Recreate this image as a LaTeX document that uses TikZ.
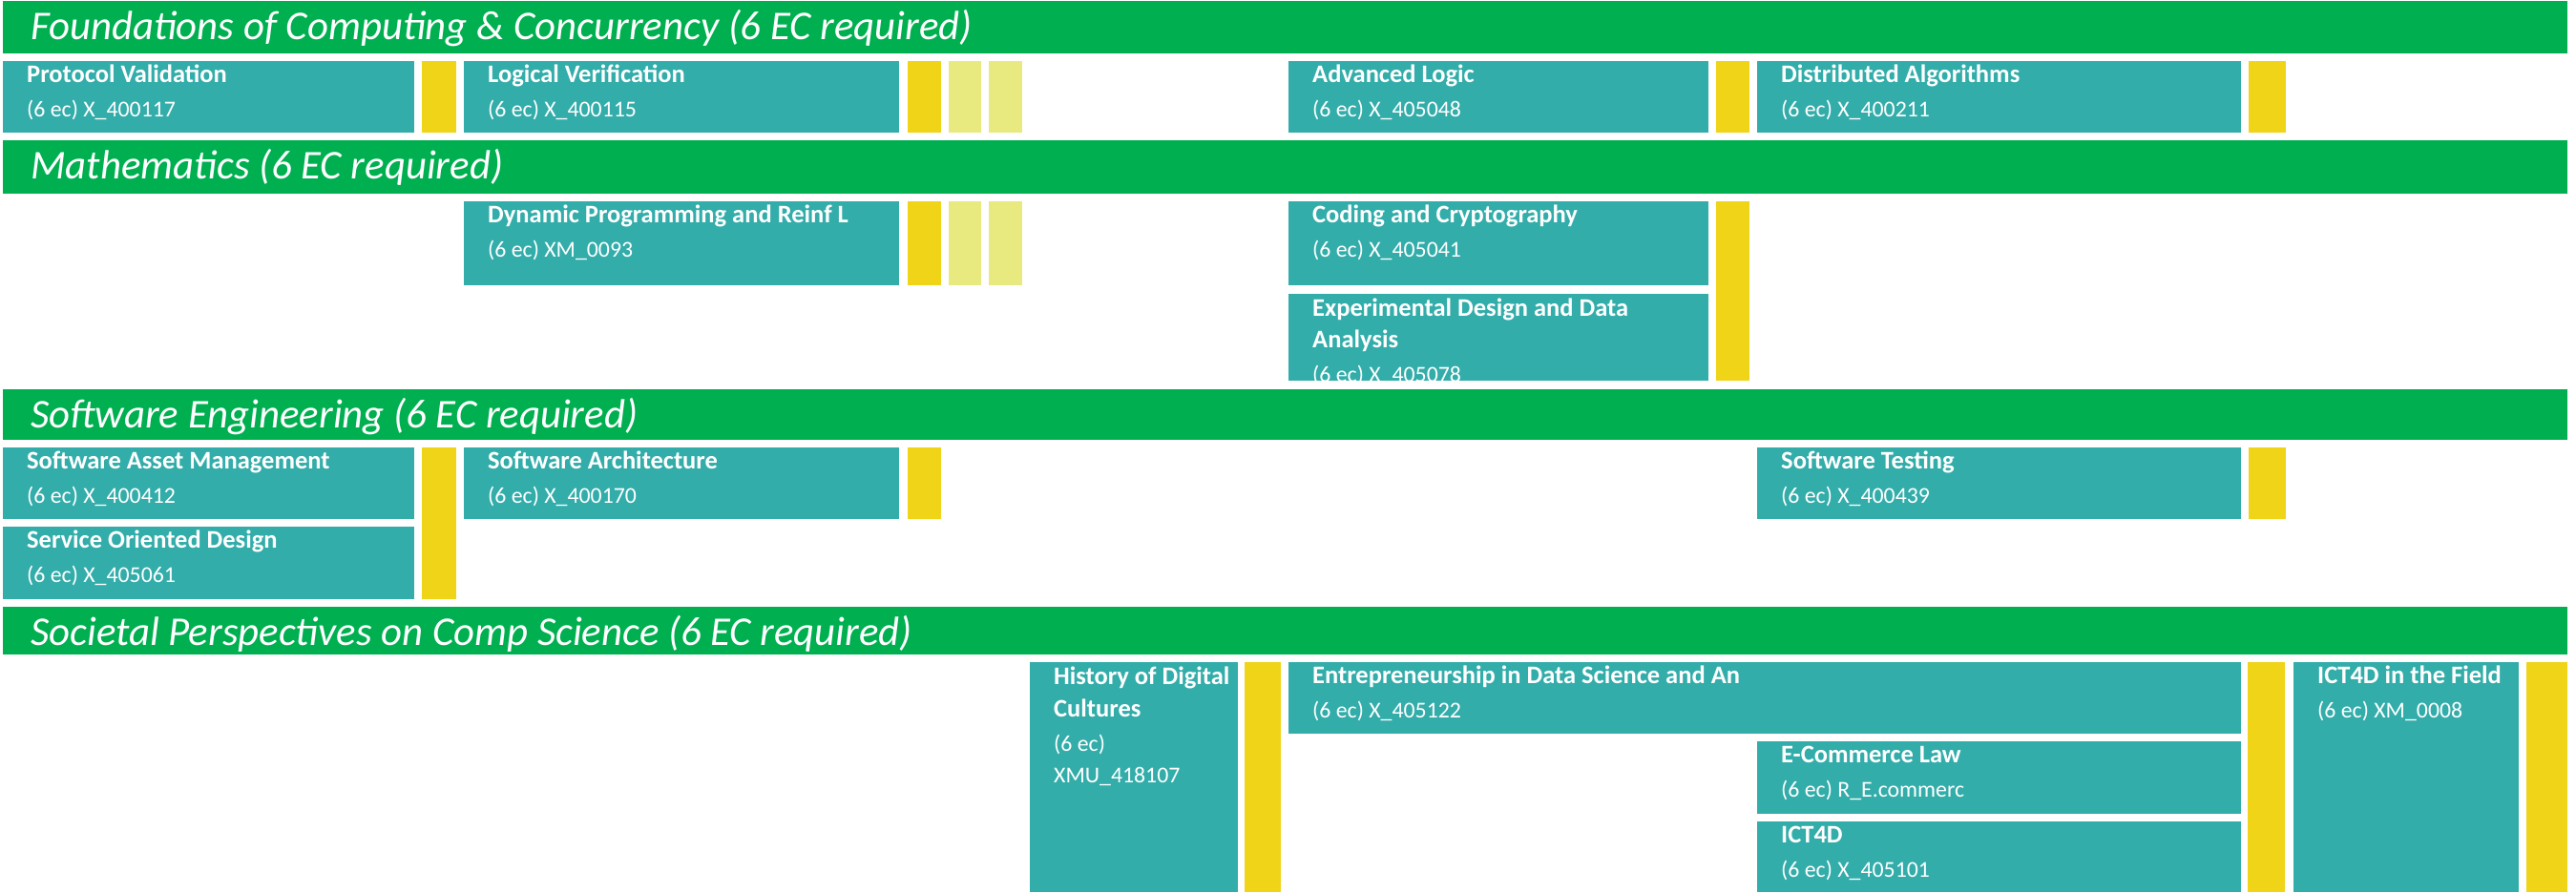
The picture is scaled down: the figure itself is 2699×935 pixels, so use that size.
\documentclass[tikz,border=0pt]{standalone}
\usepackage{fontspec}
\setmainfont{Carlito}
\definecolor{hdrgreen}{RGB}{0,176,80}
\definecolor{crsteal}{RGB}{51,173,170}
\definecolor{baryellow}{RGB}{240,212,24}
\definecolor{paleyellow}{RGB}{232,234,128}
\tikzset{
  hdrbox/.style={fill=hdrgreen, draw=none, inner sep=0pt, outer sep=0pt, anchor=north west, minimum width=2687pt},
  hdrtext/.style={text=white, inner sep=0pt, anchor=base west, font=\fontsize{42.8}{44}\selectfont\itshape},
  crsbox/.style={fill=crsteal, draw=none, inner sep=0pt, outer sep=0pt, anchor=north west},
  crstitle/.style={text=white, inner sep=0pt, anchor=base west, font=\fontsize{26.5}{28}\selectfont\bfseries},
  crscode/.style={text=white, inner sep=0pt, anchor=base west, font=\fontsize{23.8}{28}\selectfont},
  ybar/.style={fill=baryellow, draw=none, inner sep=0pt, outer sep=0pt, anchor=north west},
  pbar/.style={fill=paleyellow, draw=none, inner sep=0pt, outer sep=0pt, anchor=north west}
}
% name, x, y, w, h, title, code
\newcommand\crs[7]{%
  \node[crsbox, minimum width=#4pt, minimum height=#5pt] (#1) at (#2,#3) {};
  \node[crstitle] (#1-t) at ([xshift=25pt,yshift=-22pt]#1.north west) {#6};
  \node[crscode] (#1-c) at ([xshift=25pt,yshift=-58pt]#1.north west) {#7};
}
\newcommand\ybr[5]{\node[ybar, minimum width=#4pt, minimum height=#5pt] (#1) at (#2,#3) {};}
\newcommand\pbr[5]{\node[pbar, minimum width=#4pt, minimum height=#5pt] (#1) at (#2,#3) {};}
\newcommand\hdr[4]{%
  \node[hdrbox, minimum height=#3pt] (#1) at (3,#2) {};
  \node[hdrtext] (#1-t) at ([xshift=29pt,yshift=-40pt]#1.north west) {#4};
}
\begin{document}
\begin{tikzpicture}[x=1pt,y=-1pt]
\useasboundingbox (0,0) rectangle (2699,935);
% ---------- Foundations
\hdr{h1}{1}{55}{Foundations of Computing \& Concurrency (6 EC required)}
\crs{pv}{3}{64}{431}{75}{Protocol Validation}{(6 ec) X\_400117}
\ybr{y1a}{442}{64}{36}{75}
\crs{lv}{486}{64}{456}{75}{Logical Verification}{(6 ec) X\_400115}
\ybr{y1b}{951}{64}{35}{75}
\pbr{p1a}{994}{64}{34}{75}
\pbr{p1b}{1036}{64}{35}{75}
\crs{al}{1350}{64}{440}{75}{Advanced Logic}{(6 ec) X\_405048}
\ybr{y1c}{1798}{64}{35}{75}
\crs{da}{1841}{64}{507}{75}{Distributed Algorithms}{(6 ec) X\_400211}
\ybr{y1d}{2356}{64}{39}{75}
% ---------- Mathematics
\hdr{h2}{147}{56}{Mathematics (6 EC required)}
\crs{dp}{486}{211}{456}{88}{Dynamic Programming and Reinf L}{(6 ec) XM\_0093}
\ybr{y2a}{951}{211}{35}{88}
\pbr{p2a}{994}{211}{34}{88}
\pbr{p2b}{1036}{211}{35}{88}
\crs{cc}{1350}{211}{440}{88}{Coding and Cryptography}{(6 ec) X\_405041}
\node[crsbox, minimum width=440pt, minimum height=91pt] (ed) at (1350,308) {};
\begin{scope}
\clip (ed.north west) rectangle (ed.south east);
\node[crstitle] (ed-t1) at ([xshift=25pt,yshift=-23pt]ed.north west) {Experimental Design and Data};
\node[crstitle] (ed-t2) at ([xshift=25pt,yshift=-56pt]ed.north west) {Analysis};
\node[crscode] (ed-c) at ([xshift=25pt,yshift=-92pt]ed.north west) {(6 ec) X\_405078};
\end{scope}
\ybr{y2b}{1798}{211}{35}{188}
% ---------- Software Engineering
\hdr{h3}{408}{53}{Software Engineering (6 EC required)}
\crs{sam}{3}{469}{431}{75}{Software Asset Management}{(6 ec) X\_400412}
\crs{sod}{3}{552}{431}{76}{Service Oriented Design}{(6 ec) X\_405061}
\ybr{y3a}{442}{469}{36}{159}
\crs{sa}{486}{469}{456}{75}{Software Architecture}{(6 ec) X\_400170}
\ybr{y3b}{951}{469}{35}{75}
\crs{st}{1841}{469}{507}{75}{Software Testing}{(6 ec) X\_400439}
\ybr{y3c}{2356}{469}{39}{75}
% ---------- Societal Perspectives
\hdr{h4}{636}{50}{Societal Perspectives on Comp Science (6 EC required)}
\node[crsbox, minimum width=218pt, minimum height=241pt] (hdc) at (1079,694) {};
\node[crstitle] (hdc-t1) at ([xshift=25pt,yshift=-23pt]hdc.north west) {History of Digital};
\node[crstitle] (hdc-t2) at ([xshift=25pt,yshift=-57pt]hdc.north west) {Cultures};
\node[crscode] (hdc-c1) at ([xshift=25pt,yshift=-93pt]hdc.north west) {(6 ec)};
\node[crscode] (hdc-c2) at ([xshift=25pt,yshift=-126pt]hdc.north west) {XMU\_418107};
\ybr{y4a}{1304}{694}{38}{241}
\crs{eds}{1350}{694}{998}{75}{Entrepreneurship in Data Science and An}{(6 ec) X\_405122}
\crs{ecl}{1841}{777}{507}{76}{E-Commerce Law}{(6 ec) R\_E.commerc}
\crs{ict}{1841}{861}{507}{74}{ICT4D}{(6 ec) X\_405101}
\ybr{y4b}{2355}{694}{39}{241}
\crs{icf}{2403}{694}{236}{241}{ICT4D in the Field}{(6 ec) XM\_0008}
\ybr{y4c}{2647}{694}{43}{241}
\end{tikzpicture}
\end{document}
